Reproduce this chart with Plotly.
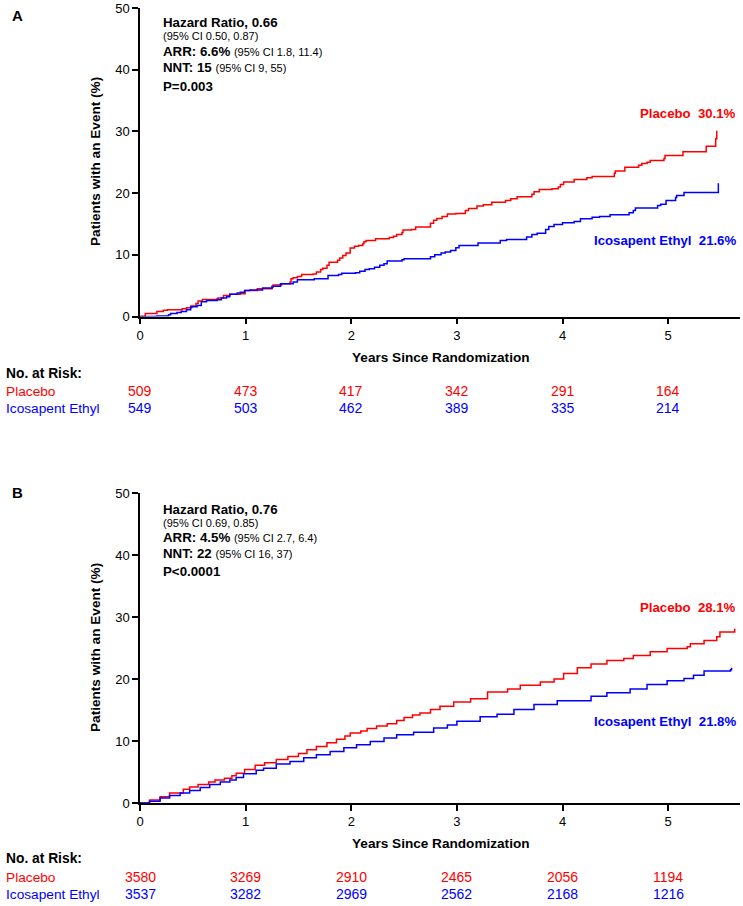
import plotly.graph_objects as go

W, H = 743, 906

# ---------------- Data ----------------
# Panel A: cumulative event rate (%) step points
a_placebo_t = [0, 0.05, 0.16, 0.22, 0.26, 0.40, 0.44, 0.48, 0.53, 0.55, 0.59, 0.73, 0.74, 0.79, 0.85, 0.95, 0.995,
               1.11, 1.25, 1.26, 1.34, 1.42, 1.43, 1.45, 1.49, 1.53, 1.64, 1.67, 1.71, 1.73, 1.77, 1.79, 1.87, 1.89,
               1.92, 1.95, 1.99, 2.03, 2.07, 2.11, 2.12, 2.14, 2.23, 2.36, 2.40, 2.43, 2.48, 2.49, 2.57, 2.61, 2.75,
               2.78, 2.81, 2.86, 2.91, 2.99, 3.08, 3.11, 3.19, 3.25, 3.33, 3.46, 3.51, 3.57, 3.71, 3.73, 3.78, 3.90,
               3.96, 3.98, 4.01, 4.11, 4.23, 4.28, 4.49, 4.50, 4.59, 4.72, 4.75, 4.80, 4.83, 4.96, 4.97, 5.14, 5.36,
               5.45, 5.46]
a_placebo_v = [0, 0.5, 0.8, 1.0, 1.1, 1.25, 1.4, 1.7, 2.1, 2.5, 2.75, 2.9, 3.0, 3.4, 3.6, 3.7, 4.2,
               4.5, 4.75, 5.1, 5.3, 5.6, 6.1, 6.3, 6.5, 6.8, 6.9, 7.2, 7.6, 7.8, 8.3, 8.8, 9.1, 9.5,
               9.9, 10.3, 11.1, 11.4, 11.5, 11.8, 12.1, 12.3, 12.6, 12.8, 13.0, 13.3, 13.6, 14.0, 14.1, 14.5, 15.1,
               15.6, 15.9, 16.2, 16.6, 16.7, 17.2, 17.5, 17.9, 18.1, 18.5, 18.8, 19.1, 19.4, 19.8, 20.2, 20.6, 20.7,
               21.0, 21.4, 21.8, 22.2, 22.5, 22.7, 23.2, 23.6, 24.2, 24.5, 24.8, 25.0, 25.3, 25.6, 26.1, 26.7, 27.6,
               28.8, 30.1]

a_ipe_t = [0, 0.16, 0.27, 0.29, 0.35, 0.39, 0.44, 0.48, 0.49, 0.54, 0.58, 0.63, 0.73, 0.77, 0.82, 0.85, 0.92, 0.95,
           0.99, 1.04, 1.16, 1.25, 1.33, 1.45, 1.49, 1.65, 1.78, 1.88, 1.91, 2.04, 2.08, 2.13, 2.17, 2.22, 2.27, 2.31,
           2.34, 2.48, 2.50, 2.75, 2.79, 2.85, 2.89, 2.94, 2.99, 3.02, 3.20, 3.41, 3.47, 3.66, 3.71, 3.76, 3.84, 3.87,
           3.92, 4.00, 4.11, 4.17, 4.28, 4.35, 4.45, 4.63, 4.67, 4.69, 4.90, 4.93, 4.98, 5.07, 5.08, 5.15, 5.47, 5.475]
a_ipe_v = [0, 0.1, 0.3, 0.5, 0.65, 0.8, 1.1, 1.45, 1.6, 1.8, 2.4, 2.6, 2.7, 3.0, 3.2, 3.6, 3.8, 3.95,
           4.2, 4.3, 4.6, 4.9, 5.3, 5.6, 5.95, 6.1, 6.65, 6.8, 7.0, 7.1, 7.35, 7.6, 7.75, 8.0, 8.3, 8.55,
           9.0, 9.2, 9.35, 9.7, 10.0, 10.3, 10.45, 10.7, 11.15, 11.5, 11.9, 12.3, 12.5, 12.9, 13.3, 13.5, 14.1, 14.6,
           14.9, 15.2, 15.4, 15.85, 16.1, 16.2, 16.5, 16.8, 17.2, 17.6, 18.0, 18.2, 18.8, 19.3, 19.6, 20.1, 20.1, 21.6]

# Panel B
b_placebo_t = [0, 0.09, 0.19, 0.28, 0.41, 0.47, 0.55, 0.65, 0.71, 0.80, 0.87, 0.91, 0.99, 1.09, 1.18, 1.29, 1.40,
               1.50, 1.58, 1.67, 1.77, 1.86, 1.94, 1.99, 2.09, 2.15, 2.24, 2.34, 2.43, 2.50, 2.58, 2.65, 2.75, 2.84,
               2.97, 3.13, 3.29, 3.48, 3.60, 3.79, 3.92, 4.01, 4.14, 4.27, 4.42, 4.58, 4.67, 4.83, 4.99, 5.18, 5.21,
               5.34, 5.46, 5.49, 5.63]
b_placebo_v = [0, 0.5, 1.0, 1.6, 2.2, 2.6, 3.0, 3.4, 3.7, 4.0, 4.4, 4.8, 5.4, 6.1, 6.5, 7.0, 7.5,
               8.0, 8.6, 9.1, 9.7, 10.3, 10.8, 11.3, 11.6, 12.0, 12.4, 12.8, 13.3, 13.8, 14.2, 14.5, 15.1, 15.6,
               16.3, 16.8, 17.9, 18.4, 19.0, 19.5, 20.0, 20.9, 21.8, 22.4, 23.0, 23.3, 23.8, 24.4, 24.9, 25.2, 25.7,
               26.2, 26.8, 27.6, 28.1]

b_ipe_t = [0, 0.09, 0.19, 0.28, 0.38, 0.47, 0.57, 0.66, 0.76, 0.85, 0.91, 0.98, 1.10, 1.17, 1.29, 1.42, 1.55,
           1.67, 1.80, 1.93, 2.05, 2.18, 2.31, 2.43, 2.59, 2.78, 2.91, 3.00, 3.22, 3.38, 3.54, 3.73, 3.95, 4.27,
           4.42, 4.64, 4.80, 4.99, 5.15, 5.24, 5.34, 5.59, 5.60]
b_ipe_v = [0, 0.3, 0.8, 1.2, 1.6, 2.0, 2.5, 3.0, 3.4, 3.7, 4.1, 4.7, 5.3, 5.6, 6.3, 6.7, 7.3,
           7.8, 8.3, 8.9, 9.4, 9.9, 10.5, 11.0, 11.4, 12.1, 12.6, 13.2, 13.9, 14.3, 15.1, 15.9, 16.5, 17.2,
           17.8, 18.4, 19.1, 19.7, 20.1, 20.6, 21.3, 21.5, 21.8]

risk_years = [0, 1, 2, 3, 4, 5]
a_risk_placebo = [509, 473, 417, 342, 291, 164]
a_risk_ipe = [549, 503, 462, 389, 335, 214]
b_risk_placebo = [3580, 3269, 2910, 2465, 2056, 1194]
b_risk_ipe = [3537, 3282, 2969, 2562, 2168, 1216]

y_ticks = [0, 10, 20, 30, 40, 50]
x_ticks = [0, 1, 2, 3, 4, 5]

RED = "#FF0000"
BLUE = "#0000FF"
FONT = "Arial, Liberation Sans, sans-serif"

# ---------------- Layout helpers ----------------
def px(x):
    return x / W

def py(y):
    return 1 - y / H

X0, X1 = 140, 740
XMAX = 5.68

fig = go.Figure()

for t, v, col, xa, ya in [
    (a_placebo_t, a_placebo_v, RED, "x", "y"),
    (a_ipe_t, a_ipe_v, BLUE, "x", "y"),
    (b_placebo_t, b_placebo_v, RED, "x2", "y2"),
    (b_ipe_t, b_ipe_v, BLUE, "x2", "y2"),
]:
    fig.add_trace(go.Scatter(x=t, y=v, mode="lines", line=dict(color=col, width=1.5, shape="hv"),
                             xaxis=xa, yaxis=ya, showlegend=False, hoverinfo="skip"))

axis_common = dict(showline=True, linecolor="black", linewidth=1.5, ticks="outside", ticklen=6,
                   tickwidth=1.5, tickcolor="black", showgrid=False, zeroline=False,
                   tickfont=dict(family=FONT, size=13, color="black"))

fig.update_layout(
    width=W, height=H,
    margin=dict(l=0, r=0, t=0, b=0, autoexpand=False),
    paper_bgcolor="white", plot_bgcolor="white",
    xaxis=dict(domain=[px(X0), px(X1)], range=[0, XMAX], tickvals=x_ticks, anchor="y", **axis_common),
    yaxis=dict(domain=[py(316.5), py(8)], range=[0, 50], tickvals=y_ticks, anchor="x", **axis_common),
    xaxis2=dict(domain=[px(X0), px(X1)], range=[0, XMAX], tickvals=x_ticks, anchor="y2", **axis_common),
    yaxis2=dict(domain=[py(803), py(493)], range=[0, 50], tickvals=y_ticks, anchor="x2", **axis_common),
)

ann = []

def text(x, y, s, size=12, color="black", anchor="left", family=FONT, xref="paper", angle=0):
    ann.append(dict(x=px(x) if xref == "paper" else x, y=py(y), xref=xref, yref="paper", text=s,
                    showarrow=False, xanchor=anchor, yanchor="middle", textangle=angle,
                    font=dict(family=family, size=size, color=color)))

def small(s):
    return "<span style='font-size:11px;font-weight:normal'>" + s + "</span>"

panels = [
    dict(letter="A", hr="0.66", hrci="(95% CI 0.50, 0.87)", arr="6.6%", arrci="(95% CI 1.8, 11.4)",
         nnt="15", nntci="(95% CI 9, 55)", p="P=0.003",
         pl_lab="Placebo  30.1%", pl_y=114, ipe_lab="Icosapent Ethyl  21.6%", ipe_y=240,
         rp=a_risk_placebo, ri=a_risk_ipe, stats_y=[22, 35.5, 51.5, 67.5, 86], top=16,
         xt_y=357, nar_y=373, rp_y=391, ri_y=408, ytitle_y=162),
    dict(letter="B", hr="0.76", hrci="(95% CI 0.69, 0.85)", arr="4.5%", arrci="(95% CI 2.7, 6.4)",
         nnt="22", nntci="(95% CI 16, 37)", p="P<0.0001",
         pl_lab="Placebo  28.1%", pl_y=607, ipe_lab="Icosapent Ethyl  21.8%", ipe_y=721,
         rp=b_risk_placebo, ri=b_risk_ipe, stats_y=[509, 523, 537.5, 553, 571], top=492,
         xt_y=843, nar_y=858, rp_y=877, ri_y=894, ytitle_y=648),
]

for i, p in enumerate(panels):
    xr = "x" if i == 0 else "x2"
    text(10, p["top"], "<b>" + p["letter"] + "</b>", size=15)
    sy = p["stats_y"]
    text(161, sy[0], "<b>Hazard Ratio, " + p["hr"] + "</b>", size=13.3)
    text(161, sy[1], p["hrci"], size=11)
    text(161, sy[2], "<b>ARR: " + p["arr"] + "</b> " + small(p["arrci"]), size=13.3)
    text(161, sy[3], "<b>NNT: " + p["nnt"] + "</b> " + small(p["nntci"]), size=13.3)
    text(161, sy[4], "<b>" + p["p"] + "</b>", size=13.3)
    text(738, p["pl_y"], "<b>" + p["pl_lab"] + "</b>", size=13.2, color=RED, anchor="right")
    text(738, p["ipe_y"], "<b>" + p["ipe_lab"] + "</b>", size=13.2, color=BLUE, anchor="right")
    text(441, p["xt_y"], "<b>Years Since Randomization</b>", size=13.6, anchor="center")
    text(95, p["ytitle_y"], "<b>Patients with an Event (%)</b>", size=13.6, anchor="center", angle=-90)
    text(4, p["nar_y"], "<b>No. at Risk:</b>", size=13.8)
    text(4, p["rp_y"], "Placebo", size=13.7, color=RED)
    text(4, p["ri_y"], "Icosapent Ethyl", size=13.7, color=BLUE)
    for yr, n1, n2 in zip(risk_years, p["rp"], p["ri"]):
        text(yr, p["rp_y"], str(n1), size=14, color=RED, anchor="center", xref=xr)
        text(yr, p["ri_y"], str(n2), size=14, color=BLUE, anchor="center", xref=xr)

fig.update_layout(annotations=ann)
fig.write_html("out.html", config={"displayModeBar": False},
               post_script="document.body.style.margin='0';document.body.style.padding='0';")
